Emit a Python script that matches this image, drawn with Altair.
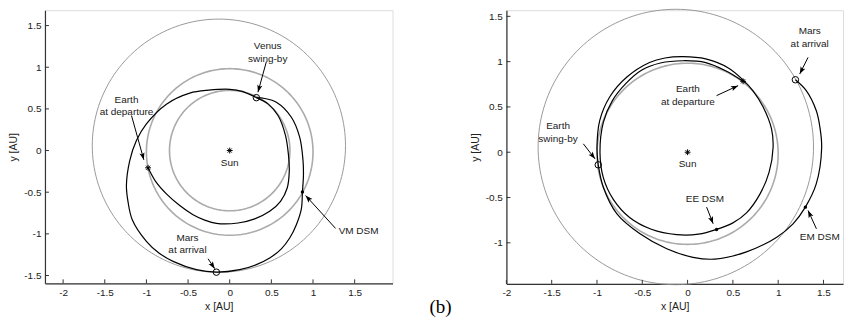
import math
import altair as alt
import pandas as pd

# ---------------- Panel (a): Earth - Venus - Mars ----------------
A_ORBIT_NAME = ["Venus", "Earth", "Mars"]
A_ORBIT_R = [0.723, 1.0, 1.52]
A_ORBIT_CX = [0.0, 0.0, -0.13]
A_ORBIT_CY = [0.0, -0.017, 0.058]

A_EV_X = [-0.98, -0.89, -0.76, -0.60, -0.44, -0.30, -0.16, 0.10, 0.30, 0.48, 0.61, 0.69, 0.715, 0.705, 0.67, 0.58, 0.46, 0.32]
A_EV_Y = [-0.207, -0.37, -0.52, -0.66, -0.77, -0.835, -0.875, -0.87, -0.82, -0.73, -0.61, -0.45, -0.25, -0.05, 0.18, 0.42, 0.56, 0.635]

A_VM_X = [0.32, 0.15, 0.0, -0.25, -0.48, -0.76, -1.0, -1.12, -1.20, -1.24, -1.22, -1.17, -1.0, -0.85, -0.68, -0.40, -0.16,
          0.12, 0.32, 0.48, 0.62, 0.72, 0.80, 0.86, 0.873, 0.885, 0.88, 0.84, 0.74, 0.56, 0.42, 0.32]
A_VM_Y = [0.635, 0.71, 0.735, 0.725, 0.69, 0.557, 0.32, 0.12, -0.12, -0.42, -0.62, -0.83, -1.09, -1.23, -1.33, -1.43, -1.46,
          -1.43, -1.37, -1.29, -1.18, -1.05, -0.89, -0.70, -0.497, -0.30, -0.12, 0.16, 0.40, 0.58, 0.625, 0.635]

A_MARK_KIND = ["star", "star", "circle", "circle", "dot"]
A_MARK_X = [0.0, -0.98, 0.32, -0.16, 0.873]
A_MARK_Y = [0.0, -0.207, 0.635, -1.46, -0.497]

A_TEXT = ["Venus\nswing-by", "Earth\nat departure", "Sun", "Mars\nat arrival", "VM DSM"]
A_TEXT_X = [0.456, -1.239, 0.0, -0.507, 1.547]
A_TEXT_Y = [1.179, 0.534, -0.147, -1.119, -0.971]

A_ARR_X0 = [0.44, -1.179, -0.26, 1.271]
A_ARR_Y0 = [1.067, 0.42, -1.299, -0.935]
A_ARR_X1 = [0.339, -1.031, -0.18, 0.911]
A_ARR_Y1 = [0.701, -0.112, -1.418, -0.54]

A_XTICKS = [-2, -1.5, -1, -0.5, 0, 0.5, 1, 1.5]
A_YTICKS = [-1.5, -1, -0.5, 0, 0.5, 1, 1.5]

# ---------------- Panel (b): Earth - Earth - Mars ----------------
B_ORBIT_NAME = ["Earth", "Mars"]
B_ORBIT_R = [1.0, 1.52]
B_ORBIT_CX = [0.0, -0.13]
B_ORBIT_CY = [-0.017, 0.058]

B_L1_X = [0.613, 0.42, 0.20, -0.05, -0.30, -0.50, -0.68, -0.83, -0.93, -0.967, -0.93, -0.82, -0.64, -0.40, -0.12, 0.12, 0.32]
B_L1_Y = [0.783, 0.90, 0.99, 1.01, 0.985, 0.91, 0.76, 0.57, 0.33, 0.0, -0.28, -0.52, -0.72, -0.85, -0.91, -0.905, -0.852]

B_L2_X = [0.32, 0.50, 0.65, 0.80, 0.90, 0.944, 0.926, 0.834, 0.72, 0.62, 0.45, 0.20, -0.05, -0.25, -0.42, -0.67, -0.86, -0.97, -1.0, -0.986]
B_L2_Y = [-0.852, -0.78, -0.67, -0.46, -0.22, 0.055, 0.26, 0.50, 0.68, 0.79, 0.93, 1.03, 1.055, 1.04, 0.99, 0.83, 0.61, 0.35, 0.05, -0.139]

B_L3_X = [-0.986, -0.93, -0.78, -0.525, -0.23, 0.06, 0.30, 0.65, 0.98, 1.164, 1.30, 1.42, 1.48, 1.46, 1.42, 1.31, 1.19]
B_L3_Y = [-0.139, -0.386, -0.68, -0.90, -1.065, -1.16, -1.18, -1.10, -0.94, -0.79, -0.606, -0.35, 0.05, 0.28, 0.46, 0.68, 0.80]

B_MARK_KIND = ["star", "star", "circle", "circle", "dot", "dot"]
B_MARK_X = [0.0, 0.613, -0.986, 1.19, 0.32, 1.30]
B_MARK_Y = [0.0, 0.783, -0.139, 0.80, -0.852, -0.606]

B_TEXT = ["Mars\nat arrival", "Earth\nat departure", "Earth\nswing-by", "Sun", "EE DSM", "EM DSM"]
B_TEXT_X = [1.348, 0.003, -1.43, 0.0, 0.191, 1.459]
B_TEXT_Y = [1.265, 0.628, 0.217, -0.128, -0.514, -0.937]

B_ARR_X0 = [1.33, 0.32, -1.151, 0.21, 1.422]
B_ARR_Y0 = [1.047, 0.625, 0.093, -0.606, -0.845]
B_ARR_X1 = [1.238, 0.558, -1.022, 0.282, 1.33]
B_ARR_Y1 = [0.864, 0.735, -0.073, -0.789, -0.643]

B_XTICKS = [-2, -1.5, -1, -0.5, 0, 0.5, 1, 1.5]
B_YTICKS = [-1, -0.5, 0, 0.5, 1, 1.5]

PANEL_LABEL = ["(b)"]

# ---------------- styling ----------------
FONT = "Liberation Sans"
STAR = "M-1,0L1,0M0,-1L0,1M-0.7,-0.7L0.7,0.7M-0.7,0.7L0.7,-0.7"
HEAD = "M0,0L-0.36,1L0,0.78L0.36,1Z"
LINE_PX = 12.5


def orbit_outline(names, radii, cxs, cys):
    """Circle outline of each orbit (centre + radius) as polyline vertices."""
    rows = []
    for n, r, cx, cy in zip(names, radii, cxs, cys):
        for k in range(0, 181):
            t = math.radians(2 * k)
            rows.append({"name": n, "k": k, "x": cx + r * math.cos(t), "y": cy + r * math.sin(t)})
    return pd.DataFrame(rows)


def text_lines(texts, xs_, ys_, ppu):
    """One row per text line, stacked around the block centre."""
    rows = []
    for t, x, y in zip(texts, xs_, ys_):
        lines = t.split("\n")
        n = len(lines)
        for i, s in enumerate(lines):
            rows.append({"t": s, "x": x, "y": y + ((n - 1) / 2 - i) * LINE_PX / ppu})
    return pd.DataFrame(rows)


def panel(w, h, ppu, x0, ytop, orbits, curves, marks, texts, arrows, xticks, yticks):
    xdom = [x0, x0 + w / ppu]
    ydom = [ytop - h / ppu, ytop]
    xs = alt.Scale(domain=xdom, nice=False, zero=False)
    ys = alt.Scale(domain=ydom, nice=False, zero=False)
    common = dict(grid=False, ticks=False, labelExpr="toString(datum.value)", labelFont=FONT,
                  labelFontSize=10, labelColor="#222", titleFont=FONT, titleFontSize=10.5,
                  titleFontWeight="normal", titleColor="#222", domainColor="#333", domainWidth=1.2,
                  labelOverlap=False, labelFlush=False)
    xax = alt.Axis(values=xticks, title="x [AU]", labelPadding=4, titlePadding=4, **common)
    yax = alt.Axis(values=yticks, title="y [AU]", labelPadding=4, titlePadding=5, **common)

    def X(f):
        return alt.X(f, type="quantitative", scale=xs, axis=xax)

    def Y(f):
        return alt.Y(f, type="quantitative", scale=ys, axis=yax)

    odf = orbit_outline(*orbits)
    orb_inner = alt.Chart(odf).transform_filter(alt.datum.name != "Mars").mark_line(
        color="#ababab", strokeWidth=1.6).encode(x=X("x"), y=Y("y"), detail="name:N", order="k:Q")
    orb_mars = alt.Chart(odf).transform_filter(alt.datum.name == "Mars").mark_line(
        color="#8f8f8f", strokeWidth=0.9).encode(x=X("x"), y=Y("y"), detail="name:N", order="k:Q")

    rows = []
    for cid, (cx, cy) in enumerate(curves):
        for i, (a, b) in enumerate(zip(cx, cy)):
            rows.append({"curve": cid, "i": i, "x": a, "y": b})
    tdf = pd.DataFrame(rows)
    traj = alt.Chart(tdf).mark_line(color="#000", strokeWidth=1.2, interpolate="catmull-rom").encode(
        x=X("x"), y=Y("y"), detail="curve:N", order="i:Q")

    mdf = pd.DataFrame(marks)
    stars = alt.Chart(mdf).transform_filter(alt.datum.kind == "star").mark_point(
        shape=STAR, filled=False, size=34, color="#000", strokeWidth=1, opacity=1).encode(x=X("x"), y=Y("y"))
    circs = alt.Chart(mdf).transform_filter(alt.datum.kind == "circle").mark_point(
        shape="circle", filled=False, size=42, color="#000", strokeWidth=1, opacity=1).encode(x=X("x"), y=Y("y"))
    dots = alt.Chart(mdf).transform_filter(alt.datum.kind == "dot").mark_point(
        shape="circle", filled=True, size=12, color="#000", opacity=1).encode(x=X("x"), y=Y("y"))

    adf = pd.DataFrame(arrows)
    adf["ang"] = [(math.degrees(math.atan2(a1 - a0, b1 - b0)) + 360) % 360
                  for a0, b0, a1, b1 in zip(adf.x0, adf.y0, adf.x1, adf.y1)]
    shafts = alt.Chart(adf).mark_rule(color="#000", strokeWidth=1).encode(
        x=X("x0"), y=Y("y0"), x2="x1:Q", y2="y1:Q")
    heads = alt.Chart(adf).mark_point(shape=HEAD, filled=True, size=210, color="#000", opacity=1).encode(
        x=X("x1"), y=Y("y1"), angle=alt.Angle("ang:Q", scale=None))

    txdf = text_lines(texts["t"], texts["x"], texts["y"], ppu)
    labels = alt.Chart(txdf).mark_text(font=FONT, fontSize=10, color="#1a1a1a",
                                       align="center", baseline="middle").encode(
        x=X("x"), y=Y("y"), text="t:N")

    xt = alt.Chart(pd.DataFrame({"v": xticks})).mark_rule(color="#333", strokeWidth=1).encode(
        x=X("v"), y=alt.value(h), y2=alt.value(h - 4))
    yt = alt.Chart(pd.DataFrame({"v": yticks})).mark_rule(color="#333", strokeWidth=1).encode(
        y=Y("v"), x=alt.value(0), x2=alt.value(4))

    layers = [orb_mars, orb_inner, traj, shafts, heads, stars, circs, dots, labels, xt, yt]
    return layers, w, h


la, wa, ha = panel(
    348, 273.5, 83.4, -2.218, 1.685,
    (A_ORBIT_NAME, A_ORBIT_R, A_ORBIT_CX, A_ORBIT_CY),
    [(A_EV_X, A_EV_Y), (A_VM_X, A_VM_Y)],
    {"kind": A_MARK_KIND, "x": A_MARK_X, "y": A_MARK_Y},
    {"t": A_TEXT, "x": A_TEXT_X, "y": A_TEXT_Y},
    {"x0": A_ARR_X0, "y0": A_ARR_Y0, "x1": A_ARR_X1, "y1": A_ARR_Y1},
    A_XTICKS, A_YTICKS)

# right panel kept inside the page width (axis stops at the page's right margin)
lb, wb, hb = panel(
    337, 274, 90.7, -2.0, 1.568,
    (B_ORBIT_NAME, B_ORBIT_R, B_ORBIT_CX, B_ORBIT_CY),
    [(B_L1_X, B_L1_Y), (B_L2_X, B_L2_Y), (B_L3_X, B_L3_Y)],
    {"kind": B_MARK_KIND, "x": B_MARK_X, "y": B_MARK_Y},
    {"t": B_TEXT, "x": B_TEXT_X, "y": B_TEXT_Y},
    {"x0": B_ARR_X0, "y0": B_ARR_Y0, "x1": B_ARR_X1, "y1": B_ARR_Y1},
    B_XTICKS, B_YTICKS)

plabel = alt.Chart(pd.DataFrame({"t": PANEL_LABEL})).mark_text(
    font="Liberation Serif", fontSize=19, color="#000", align="center", baseline="middle").encode(
    x=alt.value(-66), y=alt.value(hb + 23), text="t:N")

left = alt.layer(*la).properties(width=wa, height=ha)
right = alt.layer(*lb, plabel).properties(width=wb, height=hb)

chart = alt.hconcat(left, right, spacing=114, bounds="flush").properties(
    padding={"left": 0, "top": -2, "right": 0, "bottom": 0}
).configure_view(stroke=None).configure(font=FONT)

chart.save("out.html", embed_options={"renderer": "svg", "actions": False})
